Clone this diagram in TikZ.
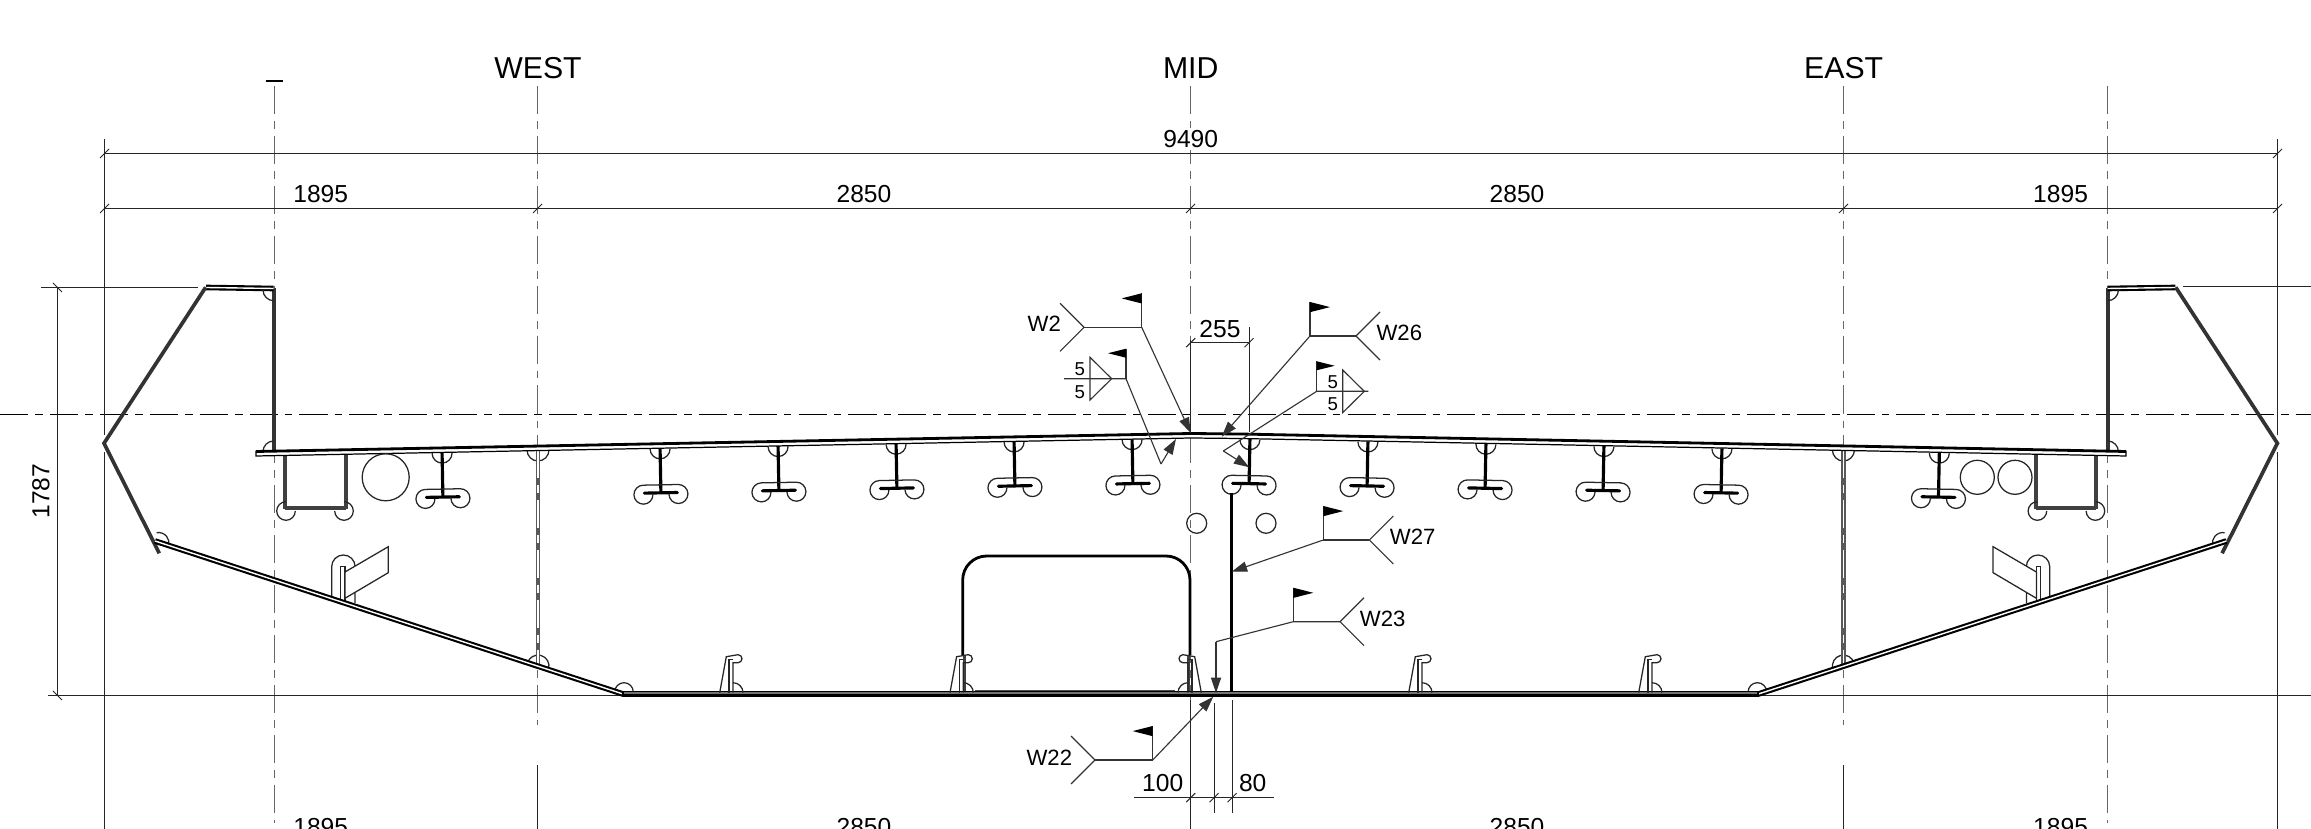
\documentclass[tikz,border=0pt]{standalone}
\usetikzlibrary{calc,arrows.meta}
\usepackage{fontspec}
\setmainfont{Liberation Sans}
\usepackage{amsmath}
\tikzset{
	grid/.style={black!60, line width=0.4pt, dash pattern=on 8pt off 2pt on 2.2pt off 2pt},
	dimline/.style={black!85, line width=0.28pt},
	weldline/.style={black!80, line width=0.32pt},
	dimtext/.style={font=\fontsize{7}{8}\selectfont, fill=white, inner sep=0.6pt},
	axistext/.style={font=\fontsize{8.6}{10}\selectfont, inner sep=0pt},
	weldtext/.style={font=\fontsize{6.3}{8}\selectfont, inner sep=0pt},
	sizetext/.style={font=\fontsize{5.3}{6}\selectfont, inner sep=0pt},
	thinplate/.style={black!85, line width=0.36pt},
	heavyplate/.style={black!80, line width=1.05pt},
	skinplate/.style={black, double=white, line width=0.6pt, double distance=0.4pt},
}
\newcommand{\dimtick}[1]{\draw[dimline] (#1)+(-0.045,-0.045) -- +(0.045,0.045);}
\newcommand{\flagpole}[4]{%
	\draw[weldline] (#1) -- ++(0,#3) coordinate (#1top);
	\fill (#1top) -- ++(#2*#4,-0.15*#3) -- ++(-#2*#4,-0.15*#3) -- cycle;
}
\newcommand{\forktail}[3]{\draw[weldline] ($(#2)+(#3*0.24,0.24)$) -- (#2) -- ($(#2)+(#3*0.24,-0.24)$);}
\newcommand{\stiffT}[1]{%
	\pgfmathsetmacro{\stiffY}{-(4.35+0.0195*abs(#1-11.907))}
	\pgfmathsetmacro{\stiffRot}{#1<11.907 ? 1.1 : -1.1}
	\begin{scope}[shift={(#1,\stiffY)}, rotate=\stiffRot]
		\draw[thinplate] (-0.1,-0.035) arc (180:360:0.1);
		\draw[black, line width=0.9pt] (0,-0.03) -- (0,-0.475);
		\draw[black, line width=0.9pt, line cap=round] (-0.165,-0.475) -- (0.165,-0.475);
		\draw[thinplate] (-0.08,-0.49) arc (360:90:0.095) -- (0.175,-0.395) arc (90:-180:0.095);
	\end{scope}
}
\newcommand{\bulbflat}[2]{%
	\begin{scope}[shift={(#1,-6.927)}, xscale=#2]
		\draw[thinplate] (-0.113,0) -- (-0.047,0.36) -- (0.07,0.38) arc (90:-90:0.04) -- (0.02,0.30) -- (0.02,0);
		\draw[thinplate] (-0.02,0) -- (-0.02,0.33) -- (0.02,0.33);
		\draw[thinplate] (0.02,0.10) arc (90:0:0.10);
	\end{scope}
}
\newcommand{\halfgirder}{%
	\draw[heavyplate] (2.737,-2.885) -- (2.737,-4.53);
	\draw[skinplate] (2.06,-2.875) -- (2.737,-2.885);
	\draw[heavyplate] (2.057,-2.873) -- (1.04,-4.433) -- (1.593,-5.533);
	\draw[thinplate] (2.63,-2.90) arc (180:270:0.107);
	\draw[thinplate] (2.737,-4.41) arc (90:180:0.107);
	\draw[thinplate] (1.567,-5.327) arc (100:-15:0.105);
	\draw[thinplate] (5.27,-4.50) arc (180:360:0.11);
	\draw[thinplate] (5.274,-6.632) arc (165:-15:0.11);
	\draw[thinplate] (6.147,-6.92) arc (180:0:0.093);
	\draw[black!65, line width=1.3pt] (5.38,-4.50) -- (5.38,-6.64);
	\draw[white, line width=0.3pt, dash pattern=on 8pt off 2pt on 2.2pt off 2pt] (5.38,-4.50) -- (5.38,-6.64);
	\draw[black!75, line width=1.1pt] (2.85,-4.56) -- (2.85,-5.09);
	\draw[black!75, line width=1.1pt] (3.457,-4.55) -- (3.457,-5.09);
	\draw[black!75, line width=1.1pt] (2.85,-5.083) -- (3.457,-5.083);
	\draw[thinplate] (2.86,-5.017) arc (90:360:0.093);
	\draw[thinplate] (3.347,-5.11) arc (180:450:0.093);
	\draw[thinplate] (3.317,-5.96) -- (3.317,-5.667) arc (180:0:0.117) -- (3.55,-6.03);
	\filldraw[thinplate, fill=white] (3.407,-5.667) rectangle (3.45,-6.017);
	\filldraw[thinplate, fill=white] (3.45,-5.72) -- (3.883,-5.467) -- (3.883,-5.727) -- (3.45,-5.983) -- cycle;
	\draw[skinplate] (1.55,-5.41) -- (6.23,-6.94);
}
\begin{document}
\begin{tikzpicture}[>={Triangle[length=4.4pt,width=2.9pt]}]
	\useasboundingbox (0,0) rectangle (23.11,-8.29);
	\draw[grid] (2.745,-0.86) -- (2.745,-8.227);
	\draw[grid] (5.375,-0.86) -- (5.375,-7.25);
	\draw[grid] (11.905,-0.86) -- (11.905,-7.0);
	\draw[grid] (18.435,-0.86) -- (18.435,-7.25);
	\draw[grid] (21.075,-0.86) -- (21.075,-8.227);
	\draw[black, line width=0.28pt, dash pattern=on 8pt off 2pt on 2.2pt off 2pt] (0,-4.145) -- (23.11,-4.145);
	\draw[black, line width=0.6pt] (2.656,-0.807) -- (2.83,-0.807);
	\coordinate (D1) at (1.045,-1.535);
	\coordinate (D2) at (22.775,-1.535);
	\coordinate (E1) at (1.045,-2.085);
	\coordinate (E2) at (5.375,-2.085);
	\coordinate (E3) at (11.905,-2.085);
	\coordinate (E4) at (18.435,-2.085);
	\coordinate (E5) at (22.775,-2.085);
	\coordinate (H1) at (0.575,-2.875);
	\coordinate (H2) at (0.575,-6.955);
	\draw[dimline] (1.045,-1.39) -- (1.045,-4.35);
	\draw[dimline] (1.045,-4.52) -- (1.045,-8.29);
	\draw[dimline] (22.775,-1.39) -- (22.775,-4.35);
	\draw[dimline] (22.775,-4.52) -- (22.775,-8.29);
	\draw[dimline] (5.375,-7.65) -- (5.375,-8.29);
	\draw[dimline] (18.435,-7.65) -- (18.435,-8.29);
	\draw[dimline] (11.905,-7.0) -- (11.905,-8.29);
	\draw[dimline] (D1) -- (D2);
	\draw[dimline] (E1) -- (E5);
	\draw[dimline] (H1) -- (H2);
	\draw[dimline] (0.41,-2.875) -- (1.98,-2.875);
	\draw[dimline] (21.83,-2.865) -- (23.11,-2.865);
	\draw[dimline] (0.48,-6.955) -- (6.23,-6.955);
	\draw[dimline] (17.58,-6.955) -- (23.11,-6.955);
	\dimtick{D1} \dimtick{D2} \dimtick{E1} \dimtick{E2} \dimtick{E3} \dimtick{E4} \dimtick{E5}
	\draw[dimline] (H1)+(-0.045,0.045) -- +(0.045,-0.045);
	\draw[dimline] (H2)+(-0.045,0.045) -- +(0.045,-0.045);
	\node[axistext] (west) at (5.38,-0.68) {WEST};
	\node[axistext] (mid) at (11.907,-0.68) {MID};
	\node[axistext] (east) at (18.437,-0.68) {EAST};
	\node[dimtext] (overall) at (11.907,-1.39) {9490};
	\node[dimtext] (topa) at (3.207,-1.945) {1895};
	\node[dimtext] (topb) at (8.64,-1.945) {2850};
	\node[dimtext] (topc) at (15.17,-1.945) {2850};
	\node[dimtext] (topd) at (20.606,-1.945) {1895};
	\node[dimtext] (bota) at (3.207,-8.275) {1895};
	\node[dimtext] (botb) at (8.64,-8.275) {2850};
	\node[dimtext] (botc) at (15.17,-8.275) {2850};
	\node[dimtext] (botd) at (20.606,-8.275) {1895};
	\node[dimtext, rotate=90] (height) at (0.41,-4.91) {1787};
	\halfgirder
	\begin{scope}[shift={(23.814,0)}, xscale=-1]
		\halfgirder
	\end{scope}
	\foreach \sx in {4.42,6.60,7.78,8.96,10.14,11.32,12.50,13.68,14.86,16.04,17.22,19.394} {
		\stiffT{\sx}
	}
	\filldraw[black, fill=white, line width=0.35pt] (2.56,-4.515) -- (11.907,-4.335) -- (12.4,-4.34) -- (21.26,-4.515) -- (21.26,-4.56) -- (12.4,-4.385) -- (11.907,-4.38) -- (2.56,-4.56) -- cycle;
	\draw[black, line width=0.8pt] (2.56,-4.515) -- (11.907,-4.335) -- (12.4,-4.34) -- (21.26,-4.515);
	\draw[thinplate] (3.857,-4.773) circle (0.235);
	\draw[thinplate] (19.773,-4.773) circle (0.17);
	\draw[thinplate] (20.15,-4.773) circle (0.17);
	\draw[thinplate] (11.967,-5.233) circle (0.1);
	\draw[thinplate] (12.66,-5.233) circle (0.1);
	\draw[black, line width=0.8pt, rounded corners=0.24cm] (9.627,-6.55) -- (9.627,-5.56) -- (11.9,-5.56) -- (11.9,-6.55);
	\draw[black, line width=1pt] (12.317,-4.93) -- (12.317,-6.92);
	\draw[black!75, line width=0.8pt] (9.645,-6.55) -- (9.645,-6.91);
	\draw[black!75, line width=0.8pt] (11.885,-6.55) -- (11.885,-6.91);
	\filldraw[black, fill=black!55, line width=0.3pt] (6.23,-6.915) rectangle (17.58,-6.96);
	\draw[black, line width=0.7pt] (6.23,-6.955) -- (17.58,-6.955);
	\fill[black!70] (9.75,-6.90) rectangle (11.75,-6.915);
	\draw[black, line width=0.5pt] (11.9,-6.915) -- (12.32,-6.915);
	\bulbflat{7.31}{1}
	\bulbflat{9.613}{1}
	\bulbflat{11.9}{-1}
	\bulbflat{14.2}{1}
	\bulbflat{16.5}{1}
	\coordinate (A1) at (11.907,-3.427);
	\coordinate (A2) at (12.49,-3.267);
	\coordinate (A3) at (12.49,-4.317);
	\coordinate (A4) at (11.907,-4.33);
	\draw[dimline] (11.907,-3.4) -- (A4);
	\draw[dimline] (A2) -- (A3);
	\draw[dimline] (A1) -- (12.49,-3.427) coordinate (A6);
	\dimtick{A1} \dimtick{A6}
	\node[dimtext] (gapa) at (12.2,-3.29) {255};
	\coordinate (W2foot) at (11.417,-3.273);
	\coordinate (W2fork) at (10.84,-3.273);
	\coordinate (W2end) at (11.907,-4.33);
	\draw[weldline] (W2fork) -- (W2foot);
	\draw[weldline, ->] (W2foot) -- (W2end);
	\forktail{W2}{W2fork}{-1}
	\flagpole{W2foot}{-1}{0.34}{0.2}
	\node[weldtext] (wtwo) at (10.443,-3.233) {W2};
	\coordinate (W26foot) at (13.10,-3.36);
	\coordinate (W26fork) at (13.56,-3.36);
	\coordinate (W26end) at (12.217,-4.367);
	\draw[weldline] (W26fork) -- (W26foot);
	\draw[weldline, ->] (W26foot) -- (W26end);
	\forktail{W26}{W26fork}{1}
	\flagpole{W26foot}{1}{0.34}{0.2}
	\node[weldtext] (wtwentysix) at (13.993,-3.333) {W26};
	\coordinate (Lfoot) at (11.26,-3.787);
	\coordinate (Lbase) at (10.64,-3.787);
	\coordinate (Lbend) at (11.61,-4.64);
	\coordinate (Lend) at (11.76,-4.39);
	\draw[weldline] (Lbase) -- (Lfoot) -- (Lbend);
	\draw[weldline, ->] (Lbend) -- (Lend);
	\draw[weldline] (10.9,-3.573) -- (11.117,-3.787) -- (10.9,-4.0) -- cycle;
	\flagpole{Lfoot}{-1}{0.30}{0.18}
	\node[sizetext] (lup) at (10.797,-3.693) {5};
	\node[sizetext] (ldown) at (10.797,-3.92) {5};
	\coordinate (Rfoot) at (13.167,-3.913);
	\coordinate (Rbase) at (13.683,-3.913);
	\coordinate (Rbend) at (12.233,-4.51);
	\coordinate (Rend) at (12.493,-4.673);
	\draw[weldline] (Rbase) -- (Rfoot) -- (Rbend);
	\draw[weldline, ->] (Rbend) -- (Rend);
	\draw[weldline] (13.427,-3.70) -- (13.643,-3.913) -- (13.427,-4.127) -- cycle;
	\flagpole{Rfoot}{1}{0.30}{0.18}
	\node[sizetext] (rup) at (13.327,-3.823) {5};
	\node[sizetext] (rdown) at (13.327,-4.043) {5};
	\coordinate (W27foot) at (13.233,-5.40);
	\coordinate (W27fork) at (13.693,-5.40);
	\coordinate (W27end) at (12.317,-5.717);
	\draw[weldline] (W27fork) -- (W27foot);
	\draw[weldline, ->] (W27foot) -- (W27end);
	\forktail{W27}{W27fork}{1}
	\flagpole{W27foot}{1}{0.34}{0.2}
	\node[weldtext] (wtwentyseven) at (14.127,-5.37) {W27};
	\coordinate (W23foot) at (12.933,-6.217);
	\coordinate (W23fork) at (13.40,-6.217);
	\coordinate (W23bend) at (12.16,-6.417);
	\coordinate (W23end) at (12.16,-6.93);
	\draw[weldline] (W23fork) -- (W23foot) -- (W23bend);
	\draw[weldline, ->] (W23bend) -- (W23end);
	\forktail{W23}{W23fork}{1}
	\flagpole{W23foot}{1}{0.34}{0.2}
	\node[weldtext] (wtwentythree) at (13.827,-6.193) {W23};
	\coordinate (W22foot) at (11.527,-7.60);
	\coordinate (W22fork) at (10.95,-7.60);
	\coordinate (W22end) at (12.133,-6.967);
	\draw[weldline] (W22fork) -- (W22foot);
	\draw[weldline, ->] (W22foot) -- (W22end);
	\forktail{W22}{W22fork}{-1}
	\flagpole{W22foot}{-1}{0.34}{0.2}
	\node[weldtext] (wtwentytwo) at (10.493,-7.577) {W22};
	\coordinate (B1) at (11.343,-7.977);
	\coordinate (B2) at (12.74,-7.977);
	\coordinate (B3) at (11.907,-7.977);
	\coordinate (B4) at (12.14,-7.977);
	\coordinate (B5) at (12.32,-7.977);
	\draw[dimline] (B1) -- (B2);
	\draw[dimline] (12.14,-7.03) -- (12.14,-8.127);
	\draw[dimline] (12.32,-7.0) -- (12.32,-8.127);
	\dimtick{B3} \dimtick{B4} \dimtick{B5}
	\node[dimtext] (gapb) at (11.627,-7.833) {100};
	\node[dimtext] (gapc) at (12.527,-7.833) {80};
\end{tikzpicture}
\end{document}
